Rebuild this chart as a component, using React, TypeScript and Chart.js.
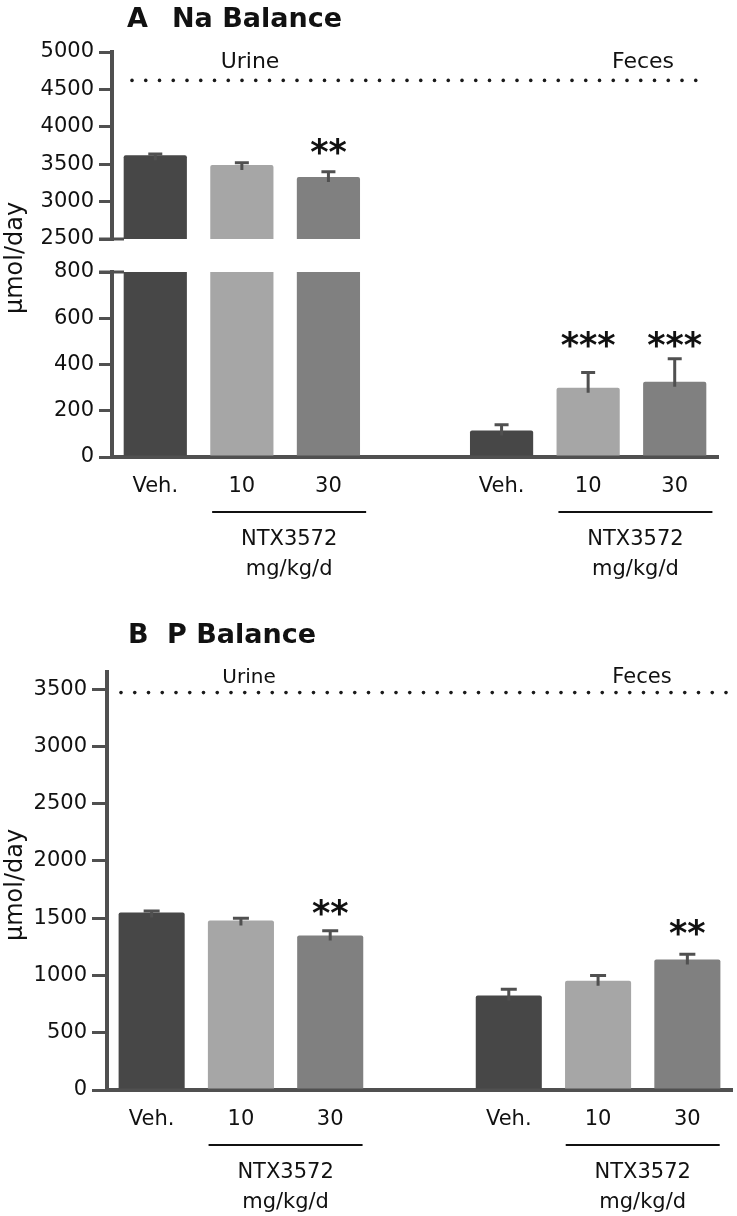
import React, { useEffect, useRef } from 'react';
import { Chart, registerables } from 'chart.js';

Chart.register(...registerables);

const FONT = '"DejaVu Sans", "Liberation Sans", Arial, sans-serif';
const AXIS = '#505050';
const INK = '#111111';

// ---------- data ----------
const categories = ['Veh.', '10', '30', '', 'Veh.', '10', '30'];
const barColors = ['#474747', '#a6a6a6', '#808080', '#ffffff', '#474747', '#a6a6a6', '#808080'];

// Panel A: Na balance (µmol/day) — urine (first three), feces (last three)
const naMeans = [3620, 3490, 3330, null, 115, 300, 325];
const naErrors = [15, 30, 70, null, 25, 65, 100];
const naStars = ['', '', '**', '', '', '***', '***'];
const naStarLevels = [null, null, 3757, null, null, 512, 512];
const naIntake = 4620;
const naUpperTicks = [2500, 3000, 3500, 4000, 4500, 5000];
const naLowerTicks = [0, 200, 400, 600, 800];

// Panel B: P balance (µmol/day)
const pMeans = [1550, 1480, 1350, null, 825, 955, 1140];
const pErrors = [12, 20, 40, null, 55, 45, 45];
const pStars = ['', '', '**', '', '', '', '**'];
const pStarLevels = [null, null, 1600, null, null, null, 1426];
const pIntake = 3470;
const pTicks = [0, 500, 1000, 1500, 2000, 2500, 3000, 3500];
const pAxisMax = 3650;

const groupLines = ['NTX3572', 'mg/kg/d'];
const groupRanges: [number, number][] = [[1, 2], [5, 6]];

type TextItem = { text: string; x: number; y: number; size: number; bold?: boolean; align?: CanvasTextAlign; rotate?: boolean };

type PanelOpts = {
  means: (number | null)[];
  errors: (number | null)[];
  stars: string[];
  starLevels: (number | null)[];
  intake: number;
  ticks: number[];
  min: number;
  max: number;
  padTop: number;
  padBottom: number;
  padRight: number;
  axisWidth: number;
  xHeight: number | null;
  barPct: number;
  capW: number;
  tickLen: number;
  dotL: number;
  dotR: number;
  breakEdge: 'top' | 'bottom' | null;
  groupShift: number | null;
  texts: TextItem[];
};

function annotPlugin(p: PanelOpts) {
  return {
    id: 'annot',
    afterDatasetsDraw(chart: any) {
      const ctx: CanvasRenderingContext2D = chart.ctx;
      const xs = chart.scales.x;
      const ys = chart.scales.y;
      const a = chart.chartArea;
      const inRange = (v: number) => v >= ys.min && v <= ys.max;
      ctx.save();
      // error bars (upper only)
      ctx.strokeStyle = AXIS;
      ctx.lineWidth = 3;
      p.means.forEach((m, i) => {
        const e = p.errors[i];
        if (m == null || e == null) return;
        if (!inRange(m) || !inRange(m + e)) return;
        const x = xs.getPixelForValue(i);
        const y0 = ys.getPixelForValue(m);
        const y1 = ys.getPixelForValue(m + e);
        ctx.beginPath();
        ctx.moveTo(x, y0 + 5);
        ctx.lineTo(x, y1);
        ctx.moveTo(x - p.capW / 2, y1);
        ctx.lineTo(x + p.capW / 2, y1);
        ctx.stroke();
      });
      // significance stars
      const starSize = 35;
      ctx.fillStyle = INK;
      ctx.font = `bold ${starSize}px ${FONT}`;
      ctx.textAlign = 'center';
      ctx.textBaseline = 'alphabetic';
      p.stars.forEach((s, i) => {
        const lv = p.starLevels[i];
        if (!s || lv == null || !inRange(lv)) return;
        const x = xs.getPixelForValue(i);
        const y = ys.getPixelForValue(lv);
        ctx.fillText(s, x, y + 0.53 * starSize);
      });
      // intake dotted line
      if (inRange(p.intake)) {
        const y = ys.getPixelForValue(p.intake);
        ctx.fillStyle = '#1a1a1a';
        for (let x = a.left + p.dotL; x <= a.right - p.dotR + 0.5; x += 13.75) {
          ctx.beginPath();
          ctx.arc(x, y, 1.8, 0, Math.PI * 2);
          ctx.fill();
        }
      }
      ctx.restore();
    },
    afterDraw(chart: any) {
      const ctx: CanvasRenderingContext2D = chart.ctx;
      const a = chart.chartArea;
      const xs = chart.scales.x;
      ctx.save();
      if (p.breakEdge) {
        const y = p.breakEdge === 'top' ? a.top : a.bottom;
        ctx.strokeStyle = AXIS;
        ctx.lineWidth = 3;
        ctx.beginPath();
        ctx.moveTo(a.left - p.tickLen, y);
        ctx.lineTo(a.left + 12, y);
        ctx.stroke();
      }
      if (p.groupShift != null) {
        ctx.fillStyle = INK;
        ctx.strokeStyle = INK;
        ctx.lineWidth = 2;
        ctx.font = `21px ${FONT}`;
        ctx.textAlign = 'center';
        ctx.textBaseline = 'alphabetic';
        groupRanges.forEach(([i0, i1]) => {
          const cx = (xs.getPixelForValue(i0) + xs.getPixelForValue(i1)) / 2 + (p.groupShift as number);
          const y = a.bottom + 55;
          ctx.beginPath();
          ctx.moveTo(cx - 77, y);
          ctx.lineTo(cx + 77, y);
          ctx.stroke();
          groupLines.forEach((t, k) => ctx.fillText(t, cx, a.bottom + [88, 118][k]));
        });
      }
      p.texts.forEach((t) => {
        ctx.save();
        ctx.fillStyle = INK;
        ctx.font = `${t.bold ? 'bold ' : ''}${t.size}px ${FONT}`;
        ctx.textAlign = t.align || 'left';
        if (t.rotate) {
          ctx.translate(t.x, t.y);
          ctx.rotate(-Math.PI / 2);
          ctx.textAlign = 'center';
          ctx.textBaseline = 'middle';
          ctx.fillText(t.text, 0, 0);
        } else {
          ctx.textBaseline = 'alphabetic';
          ctx.fillText(t.text, t.x, t.y);
        }
        ctx.restore();
      });
      ctx.restore();
    },
  };
}

function makeChart(canvas: HTMLCanvasElement, p: PanelOpts) {
  return new Chart(canvas, {
    type: 'bar',
    data: {
      labels: categories,
      datasets: [
        {
          data: p.means as any,
          backgroundColor: barColors,
          borderWidth: 0,
          borderRadius: 2,
          barPercentage: p.barPct,
          categoryPercentage: 1,
          clip: 0 as any,
        },
      ],
    },
    options: {
      responsive: false,
      animation: false,
      events: [],
      layout: { padding: { top: p.padTop, bottom: p.padBottom, left: 0, right: p.padRight } },
      plugins: { legend: { display: false }, tooltip: { enabled: false }, title: { display: false } },
      scales: {
        x: {
          type: 'category',
          display: p.xHeight != null,
          offset: true,
          grid: { display: false, drawTicks: false },
          border: { display: true, color: AXIS, width: 4 },
          ticks: { color: INK, font: { family: FONT, size: 21 }, padding: 17, maxRotation: 0, autoSkip: false },
          afterFit: (s: any) => {
            if (p.xHeight != null) s.height = p.xHeight;
          },
        },
        y: {
          type: 'linear',
          min: p.min,
          max: p.max,
          afterBuildTicks: (s: any) => {
            s.ticks = p.ticks.map((v) => ({ value: v }));
          },
          afterFit: (s: any) => {
            s.width = p.axisWidth;
          },
          grid: {
            display: true,
            drawOnChartArea: false,
            drawTicks: true,
            tickLength: p.tickLen,
            tickWidth: 3,
            tickColor: AXIS,
            color: AXIS,
            lineWidth: 3,
          },
          border: { display: true, color: AXIS, width: 4 },
          ticks: { color: INK, font: { family: FONT, size: 21 }, padding: 5, callback: (v: any) => String(v) },
        },
      },
    } as any,
    plugins: [annotPlugin(p) as any],
  });
}

const aTopOpts: PanelOpts = {
  means: naMeans, errors: naErrors, stars: naStars, starLevels: naStarLevels, intake: naIntake,
  ticks: naUpperTicks, min: 2500, max: 5000,
  padTop: 52, padBottom: 91, padRight: 19, axisWidth: 112, xHeight: null,
  barPct: 0.73, capW: 14, tickLen: 13, dotL: 20, dotR: 14, breakEdge: 'bottom', groupShift: null,
  texts: [
    { text: 'A', x: 127, y: 27, size: 27, bold: true },
    { text: 'Na Balance', x: 172, y: 27, size: 27, bold: true },
    { text: 'Urine', x: 250, y: 68, size: 22, align: 'center' },
    { text: 'Feces', x: 643, y: 68, size: 22, align: 'center' },
    { text: 'μmol/day', x: 16, y: 258, size: 24, rotate: true },
  ],
};

const aBottomOpts: PanelOpts = {
  means: naMeans, errors: naErrors, stars: naStars, starLevels: naStarLevels, intake: naIntake,
  ticks: naLowerTicks, min: 0, max: 800,
  padTop: 22, padBottom: 0, padRight: 19, axisWidth: 112, xHeight: 143,
  barPct: 0.73, capW: 14, tickLen: 13, dotL: 20, dotR: 14, breakEdge: 'top', groupShift: 4,
  texts: [],
};

const bOpts: PanelOpts = {
  means: pMeans, errors: pErrors, stars: pStars, starLevels: pStarLevels, intake: pIntake,
  ticks: pTicks, min: 0, max: pAxisMax,
  padTop: 72, padBottom: 0, padRight: 5, axisWidth: 107, xHeight: 126,
  barPct: 0.74, capW: 16, tickLen: 15, dotL: 14, dotR: 2, breakEdge: null, groupShift: 0,
  texts: [
    { text: 'B', x: 128, y: 43, size: 27, bold: true },
    { text: 'P Balance', x: 167, y: 43, size: 27, bold: true },
    { text: 'Urine', x: 249, y: 83, size: 20, align: 'center' },
    { text: 'Feces', x: 642, y: 83, size: 21, align: 'center' },
    { text: 'μmol/day', x: 16, y: 285, size: 24, rotate: true },
  ],
};

export default function App() {
  const r1 = useRef<HTMLCanvasElement>(null);
  const r2 = useRef<HTMLCanvasElement>(null);
  const r3 = useRef<HTMLCanvasElement>(null);

  useEffect(() => {
    const charts = [
      makeChart(r1.current as HTMLCanvasElement, aTopOpts),
      makeChart(r2.current as HTMLCanvasElement, aBottomOpts),
      makeChart(r3.current as HTMLCanvasElement, bOpts),
    ];
    return () => charts.forEach((c) => c.destroy());
  }, []);

  return (
    <div style={{ position: 'absolute', left: 0, top: 0, width: 737, height: 1216, background: '#ffffff' }}>
      <canvas ref={r1} width={737} height={330} style={{ position: 'absolute', left: 0, top: 0 }} />
      <canvas ref={r2} width={737} height={350} style={{ position: 'absolute', left: 0, top: 250 }} />
      <canvas ref={r3} width={737} height={616} style={{ position: 'absolute', left: 0, top: 600 }} />
    </div>
  );
}
